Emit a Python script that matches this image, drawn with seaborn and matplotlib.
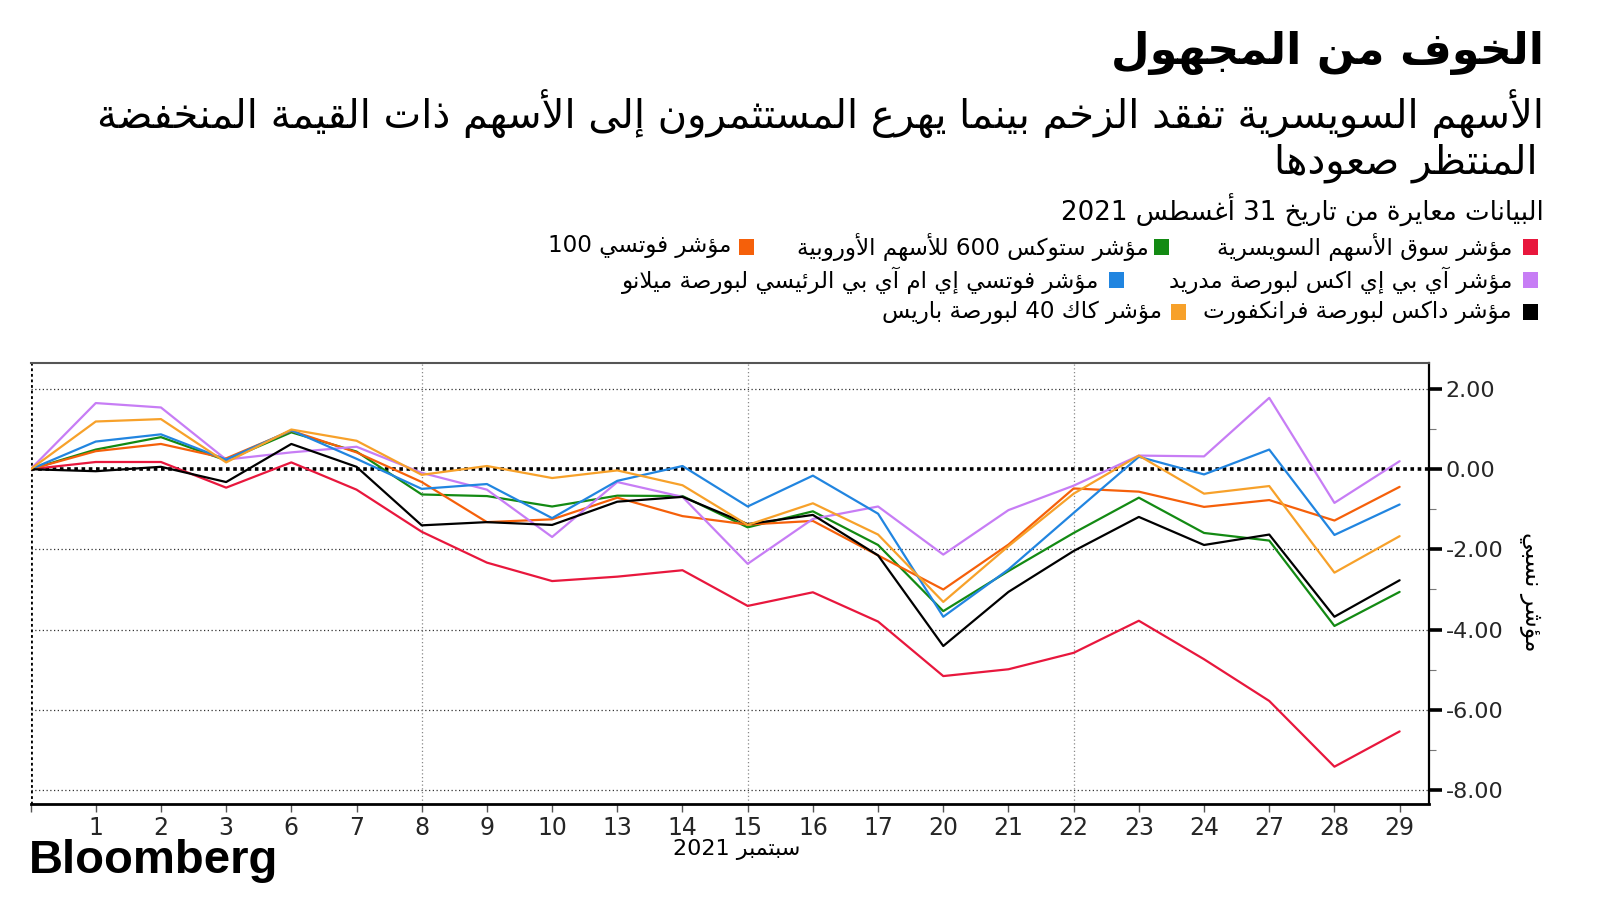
import matplotlib
matplotlib.use("Agg")
import re
import numpy as np
import pandas as pd
import matplotlib.pyplot as plt
import seaborn as sns
from matplotlib.patches import Rectangle

# ---------------- data ----------------
days = ["", "1", "2", "3", "6", "7", "8", "9", "10", "13", "14", "15", "16", "17",
        "20", "21", "22", "23", "24", "27", "28", "29"]

smi = [0, 0.18, 0.18, -0.46, 0.17, -0.51, -1.56, -2.33, -2.79, -2.68, -2.52, -3.41,
       -3.07, -3.80, -5.16, -4.99, -4.58, -3.78, -4.74, -5.78, -7.42, -6.54]
stoxx600 = [0, 0.49, 0.80, 0.22, 0.92, 0.44, -0.63, -0.67, -0.93, -0.66, -0.67, -1.45,
            -1.05, -1.89, -3.54, -2.54, -1.59, -0.71, -1.59, -1.78, -3.91, -3.06]
ftse100 = [0, 0.45, 0.63, 0.27, 0.96, 0.42, -0.32, -1.32, -1.25, -0.71, -1.17, -1.38,
           -1.29, -2.15, -3.00, -1.88, -0.48, -0.56, -0.94, -0.77, -1.28, -0.44]
ibex = [0, 1.65, 1.54, 0.24, 0.42, 0.56, -0.09, -0.51, -1.69, -0.32, -0.69, -2.36,
        -1.24, -0.93, -2.13, -1.02, -0.41, 0.34, 0.32, 1.78, -0.84, 0.20]
ftsemib = [0, 0.69, 0.87, 0.24, 0.97, 0.26, -0.49, -0.37, -1.22, -0.29, 0.08, -0.93,
           -0.16, -1.11, -3.68, -2.50, -1.09, 0.31, -0.13, 0.49, -1.64, -0.88]
dax = [0, -0.05, 0.06, -0.32, 0.63, 0.06, -1.40, -1.32, -1.39, -0.81, -0.69, -1.37,
       -1.14, -2.15, -4.41, -3.06, -2.04, -1.19, -1.89, -1.63, -3.68, -2.77]
cac40 = [0, 1.19, 1.25, 0.17, 0.99, 0.71, -0.14, 0.08, -0.22, -0.03, -0.40, -1.39,
         -0.85, -1.63, -3.31, -1.92, -0.61, 0.34, -0.61, -0.42, -2.58, -1.67]

series_names = [
    "مؤشر سوق الأسهم السويسرية",
    "مؤشر ستوكس 600 للأسهم الأوروبية",
    "مؤشر فوتسي 100",
    "مؤشر آي بي إي اكس لبورصة مدريد",
    "مؤشر فوتسي إي ام آي بي الرئيسي لبورصة ميلانو",
    "مؤشر داكس لبورصة فرانكفورت",
    "مؤشر كاك 40 لبورصة باريس",
]
series_values = [smi, stoxx600, ftse100, ibex, ftsemib, dax, cac40]
series_colors = ["#e8173d", "#138a13", "#f5600a", "#c77df5", "#2185e0", "#000000", "#f7a12a"]

title = "الخوف من المجهول"
subtitle1 = "الأسهم السويسرية تفقد الزخم بينما يهرع المستثمرون إلى الأسهم ذات القيمة المنخفضة"
subtitle2 = "المنتظر صعودها"
note = "البيانات معايرة من تاريخ 31 أغسطس 2021"
xlabel = "سبتمبر 2021"
ylabel = "مؤشر نسبي"
yticks = [-8, -6, -4, -2, 0, 2]

# ---------------- minimal Arabic shaping ----------------
_AR = {
    '\u0621': (0xFE80, 'U'), '\u0622': (0xFE81, 'R'), '\u0623': (0xFE83, 'R'),
    '\u0624': (0xFE85, 'R'), '\u0625': (0xFE87, 'R'), '\u0626': (0xFE89, 'D'),
    '\u0627': (0xFE8D, 'R'), '\u0628': (0xFE8F, 'D'), '\u0629': (0xFE93, 'R'),
    '\u062A': (0xFE95, 'D'), '\u062B': (0xFE99, 'D'), '\u062C': (0xFE9D, 'D'),
    '\u062D': (0xFEA1, 'D'), '\u062E': (0xFEA5, 'D'), '\u062F': (0xFEA9, 'R'),
    '\u0630': (0xFEAB, 'R'), '\u0631': (0xFEAD, 'R'), '\u0632': (0xFEAF, 'R'),
    '\u0633': (0xFEB1, 'D'), '\u0634': (0xFEB5, 'D'), '\u0635': (0xFEB9, 'D'),
    '\u0636': (0xFEBD, 'D'), '\u0637': (0xFEC1, 'D'), '\u0638': (0xFEC5, 'D'),
    '\u0639': (0xFEC9, 'D'), '\u063A': (0xFECD, 'D'), '\u0641': (0xFED1, 'D'),
    '\u0642': (0xFED5, 'D'), '\u0643': (0xFED9, 'D'), '\u0644': (0xFEDD, 'D'),
    '\u0645': (0xFEE1, 'D'), '\u0646': (0xFEE5, 'D'), '\u0647': (0xFEE9, 'D'),
    '\u0648': (0xFEED, 'R'), '\u0649': (0xFEEF, 'R'), '\u064A': (0xFEF1, 'D'),
}
_LAMALEF = {'\u0622': 0xFEF5, '\u0623': 0xFEF7, '\u0625': 0xFEF9, '\u0627': 0xFEFB}


def ar(text):
    toks = []
    i = 0
    while i < len(text):
        c = text[i]
        if c == '\u0644' and i + 1 < len(text) and text[i + 1] in _LAMALEF:
            toks.append((_LAMALEF[text[i + 1]], 'R'))
            i += 2
            continue
        if c in _AR:
            toks.append(_AR[c])
        else:
            toks.append((c, None))
        i += 1
    out = []
    for k, (base, t) in enumerate(toks):
        if t is None:
            out.append(base)
            continue
        prev_t = toks[k - 1][1] if k > 0 else None
        next_t = toks[k + 1][1] if k + 1 < len(toks) else None
        jp = prev_t == 'D' and t in ('D', 'R')
        jn = t == 'D' and next_t in ('D', 'R')
        if t == 'U':
            off = 0
        elif t == 'R':
            off = 1 if jp else 0
        else:
            off = {(False, False): 0, (True, False): 1, (False, True): 2, (True, True): 3}[(jp, jn)]
        out.append(chr(base + off))
    vis = ''.join(out)[::-1]
    vis = re.sub(r'[0-9A-Za-z.,%]+', lambda m: m.group(0)[::-1], vis)
    return vis


# ---------------- figure ----------------
sns.set_theme(style="white")
plt.rcParams['font.family'] = ['DejaVu Sans']
plt.rcParams['axes.unicode_minus'] = False

fig = plt.figure(figsize=(16, 9), dpi=100)
ax = fig.add_axes([0.0191, 0.1067, 0.8740, 0.4900])

n = len(days)
df = pd.DataFrame({
    "idx": np.tile(np.arange(n), len(series_names)),
    "value": np.concatenate([np.asarray(v, float) for v in series_values]),
    "series": np.repeat(series_names, n),
})
sns.lineplot(data=df, x="idx", y="value", hue="series", hue_order=series_names,
             palette=series_colors, linewidth=1.6, legend=False, ax=ax,
             estimator=None, sort=False)

ax.set_xlim(0, n - 1 + 0.45)
ax.set_ylim(-8.35, 2.65)

# grid lines
for v in yticks:
    if v == 0:
        ax.axhline(v, color="black", lw=2.6, ls=(0, (1, 1)), zorder=1)
    else:
        ax.axhline(v, color="#333333", lw=0.9, ls=(0, (1, 2)), zorder=1)
for k, d in enumerate(days):
    if d in ("8", "15", "22"):
        ax.axvline(k, color="#888888", lw=0.9, ls=(0, (1, 2)), zorder=1)
ax.axvline(0, color="black", lw=2.0, ls=(0, (1, 1)), zorder=1)

# spines
ax.spines['left'].set_visible(False)
ax.spines['top'].set_color('#555555')
ax.spines['top'].set_linewidth(1.5)
ax.spines['right'].set_color('black')
ax.spines['right'].set_linewidth(1.6)
ax.spines['bottom'].set_color('black')
ax.spines['bottom'].set_linewidth(2.0)

# y axis on the right
ax.yaxis.tick_right()
ax.set_yticks(yticks)
ax.set_yticklabels([f"{v:.2f}" for v in yticks])
ax.set_yticks([1, -1, -3, -5, -7], minor=True)
ax.tick_params(axis='y', which='major', direction='out', length=9, width=2.6,
               color='black', labelsize=16, pad=3, right=True, left=False)
ax.tick_params(axis='y', which='minor', direction='out', length=5, width=0.8,
               color='#777777', right=True, left=False)
ax.set_ylabel("")

# x axis
ax.set_xticks(range(n))
ax.set_xticklabels(days)
ax.tick_params(axis='x', direction='out', length=6, width=1, color='#555555',
               labelsize=17, pad=3, bottom=True)
ax.set_xlabel("")

# ---------------- texts ----------------
RX = 1544 / 1600
fig.text(RX, 1 - 53 / 900, ar(title), ha='right', va='center', fontsize=32,
         fontweight='bold', color='black')
fig.text(RX, 1 - 114 / 900, ar(subtitle1), ha='right', va='center', fontsize=28.8,
         color='black')
fig.text(RX - 6 / 1600, 1 - 163 / 900, ar(subtitle2), ha='right', va='center',
         fontsize=28.8, color='black')
fig.text(RX, 1 - 210 / 900, ar(note), ha='right', va='center', fontsize=18.8,
         color='black')

# legend (manual, right-to-left)
legend_items = [
    (0, 1530, 1512, 247), (1, 1161, 1149, 247), (2, 746, 731, 247),
    (3, 1530, 1512, 280), (4, 1116, 1099, 280),
    (5, 1530, 1512, 312), (6, 1178, 1162, 312),
]
sq_w, sq_h = 15, 15
for si, sq_x, tx, ty in legend_items:
    fig.patches.append(Rectangle(((sq_x - sq_w / 2) / 1600, 1 - (ty + sq_h / 2) / 900),
                                 sq_w / 1600, sq_h / 900, transform=fig.transFigure,
                                 facecolor=series_colors[si], edgecolor='none'))
    fig.text(tx / 1600, 1 - ty / 900, ar(series_names[si]), ha='right', va='center',
             fontsize=16.6, color='black')

# axis titles
fig.text(737 / 1600, 1 - 849 / 900, ar(xlabel), ha='center', va='center',
         fontsize=16, color='black')
fig.text(1531 / 1600, 1 - 592 / 900, ar(ylabel), ha='center', va='center',
         fontsize=17, rotation=-90, color='black')

# brand
fig.text(29 / 1600, 1 - 861 / 900, "Bloomberg", ha='left', va='center', fontsize=34,
         fontweight='bold', family='Liberation Sans', color='black')

fig.savefig("out.png", dpi=100, facecolor='white')
